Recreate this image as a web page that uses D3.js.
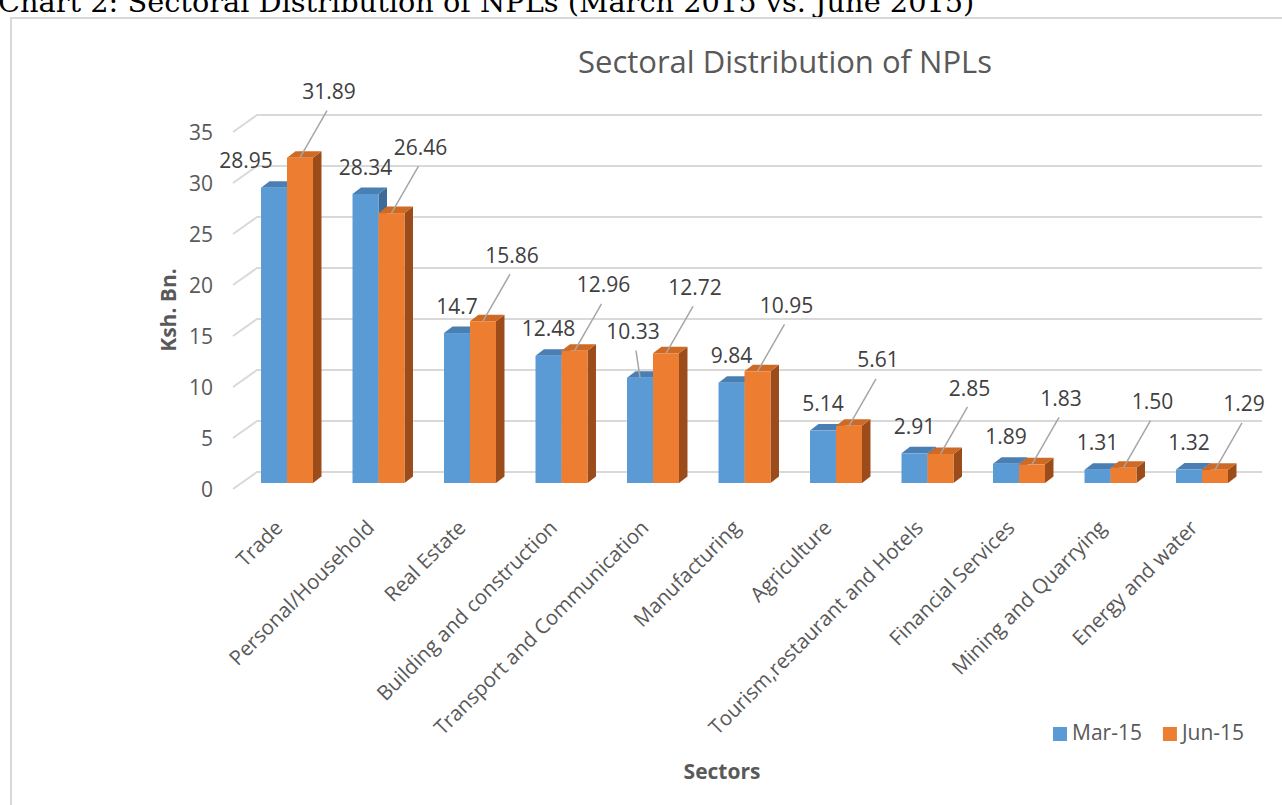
<!DOCTYPE html>
<html>
<head>
<meta charset="utf-8">
<script src="https://cdnjs.cloudflare.com/ajax/libs/d3/7.8.5/d3.min.js"></script>
<style>
  body { margin: 0; background: #fff; }
  svg text { font-family: "Open Sans", sans-serif; }
</style>
</head>
<body>
<script>
// data
var sectors = ["Trade", "Personal/Household", "Real Estate", "Building  and construction",
  "Transport and Communication", "Manufacturing", "Agriculture",
  "Tourism,restaurant and Hotels", "Financial Services", "Mining and Quarrying", "Energy and water"];
var mar15 = [28.95, 28.34, 14.7, 12.48, 10.33, 9.84, 5.14, 2.91, 1.89, 1.31, 1.32];
var jun15 = [31.89, 26.46, 15.86, 12.96, 12.72, 10.95, 5.61, 2.85, 1.83, 1.50, 1.29];
var marText = ["28.95", "28.34", "14.7", "12.48", "10.33", "9.84", "5.14", "2.91", "1.89", "1.31", "1.32"];
var junText = ["31.89", "26.46", "15.86", "12.96", "12.72", "10.95", "5.61", "2.85", "1.83", "1.50", "1.29"];
var seriesNames = ["Mar-15", "Jun-15"];
var yTicks = [0, 5, 10, 15, 20, 25, 30, 35];

var W = 1282, H = 805;
var svg = d3.select("body").append("svg").attr("width", W).attr("height", H);

// page heading (cut off at the top like the source)
var head = svg.append("text")
  .attr("x", -2).attr("y", 12)
  .style("font-family", "'DejaVu Serif', serif")
  .style("font-size", "24px")
  .attr("fill", "#000")
  .text("Chart 2: Sectoral Distribution of NPLs (March 2015 vs. June 2015)");
var hl = head.node().getComputedTextLength();
head.style("font-size", (24 * 977 / hl) + "px");

// chart frame
svg.append("rect")
  .attr("x", 11).attr("y", 18).attr("width", 1400).attr("height", 900)
  .attr("fill", "none").attr("stroke", "#d9d9d9").attr("stroke-width", 2);

var x = d3.scaleBand().domain(sectors).range([241.25, 1247.75])
  .paddingInner(0.432).paddingOuter(0.216);
var xs = d3.scaleBand().domain(seriesNames).range([0, x.bandwidth()]);
var yF = d3.scaleLinear().domain([0, 35]).range([483, 126]);   // front face
var yB = d3.scaleLinear().domain([0, 35]).range([472, 115]);   // back wall

var depthX = 8.5, depthY = 6.5;
var wallX = 257, wallEnd = 1262;

// gridlines on the wall
var grid = svg.append("g");
yTicks.forEach(function (t) {
  grid.append("path")
    .attr("d", "M" + (wallX - 24) + "," + (yB(t) + 17) + "L" + wallX + "," + yB(t) + "L" + wallEnd + "," + yB(t))
    .attr("fill", "none").attr("stroke", "#d9d9d9").attr("stroke-width", 2);
  svg.append("text")
    .attr("x", 213).attr("y", yF(t) + 8)
    .attr("text-anchor", "end").attr("dominant-baseline", "middle")
    .attr("fill", "#595959").style("font-size", "21px")
    .text(t);
});

// 3D bars
var colors = {
  "Mar-15": { front: "#5b9bd5", top: "#4a7fb3", side: "#3d6b98" },
  "Jun-15": { front: "#ed7d31", top: "#cf6a24", side: "#9c4c1b" }
};

function bar(g, x0, w, v, c) {
  var top = yF(v), bot = yF(0);
  g.append("path")
    .attr("d", "M" + (x0 + w) + "," + top + "L" + (x0 + w + depthX) + "," + (top - depthY) +
      "L" + (x0 + w + depthX) + "," + (bot - depthY) + "L" + (x0 + w) + "," + bot + "Z")
    .attr("fill", c.side);
  g.append("path")
    .attr("d", "M" + x0 + "," + top + "L" + (x0 + depthX) + "," + (top - depthY) +
      "L" + (x0 + w + depthX) + "," + (top - depthY) + "L" + (x0 + w) + "," + top + "Z")
    .attr("fill", c.top);
  g.append("rect")
    .attr("x", x0).attr("y", top).attr("width", w).attr("height", bot - top)
    .attr("fill", c.front);
}

var bars = svg.append("g");
sectors.forEach(function (s, i) {
  bar(bars, x(s) + xs("Mar-15"), xs.bandwidth(), mar15[i], colors["Mar-15"]);
  bar(bars, x(s) + xs("Jun-15"), xs.bandwidth(), jun15[i], colors["Jun-15"]);
});

// data labels
var labels = svg.append("g").attr("fill", "#404040").style("font-size", "21px");
sectors.forEach(function (s, i) {
  var jx = x(s) + xs("Jun-15") + xs.bandwidth() / 2;
  var jTop = yF(jun15[i]);
  var lx = jx + 29, ly = jTop - 64;
  labels.append("line")
    .attr("x1", lx - 2).attr("y1", ly + 17).attr("x2", jx).attr("y2", jTop)
    .attr("stroke", "#a6a6a6").attr("stroke-width", 1.5);
  labels.append("text")
    .attr("x", lx).attr("y", ly)
    .attr("text-anchor", "middle").attr("dominant-baseline", "middle")
    .text(junText[i]);

  var mx = x(s) + xs("Mar-15") + xs.bandwidth() / 2;
  var mTop = yF(mar15[i]);
  var my = mTop - 25;
  var t = labels.append("text")
    .attr("x", mx).attr("y", my)
    .attr("text-anchor", "middle").attr("dominant-baseline", "middle")
    .text(marText[i]);
  // keep the label off the taller orange bar
  var hw = t.node().getComputedTextLength() / 2;
  var ox = x(s) + xs("Jun-15");
  if (mx + hw > ox && my + 8 > jTop) {
    var prevEdge = i > 0 ? x(sectors[i - 1]) + x.bandwidth() + depthX + 4 : -Infinity;
    if (mx - 28 - hw > prevEdge) {
      t.attr("x", mx - 28);
    } else {
      // lift it and tie it back to its bar
      t.attr("x", mx - 7).attr("y", my - 19);
      labels.insert("line", "text")
        .attr("x1", mx - 4).attr("y1", my - 2).attr("x2", mx).attr("y2", mTop)
        .attr("stroke", "#a6a6a6").attr("stroke-width", 1.5);
    }
  }
});

// category labels
sectors.forEach(function (s) {
  var cx = x(s) + x.bandwidth() / 2;
  svg.append("text")
    .attr("transform", "translate(" + (cx - 3) + ",529) rotate(-45)")
    .attr("text-anchor", "end")
    .attr("fill", "#595959").style("font-size", "20.5px")
    .text(s);
});

// titles
svg.append("text")
  .attr("x", 785).attr("y", 65)
  .attr("text-anchor", "middle").attr("dominant-baseline", "middle")
  .attr("fill", "#595959").style("font-size", "31px")
  .text("Sectoral Distribution of NPLs");

svg.append("text")
  .attr("transform", "translate(170,310) rotate(-90)")
  .attr("text-anchor", "middle").attr("dominant-baseline", "middle")
  .attr("fill", "#595959").style("font-size", "21px").style("font-weight", "bold")
  .text("Ksh. Bn.");

svg.append("text")
  .attr("x", 722).attr("y", 773)
  .attr("text-anchor", "middle").attr("dominant-baseline", "middle")
  .attr("fill", "#595959").style("font-size", "21px").style("font-weight", "bold")
  .text("Sectors");

// legend
var legend = svg.append("g").attr("transform", "translate(1053,727)");
var lx0 = 0;
seriesNames.forEach(function (n) {
  legend.append("rect").attr("x", lx0).attr("y", 0).attr("width", 14).attr("height", 14)
    .attr("fill", colors[n].front);
  var t = legend.append("text").attr("x", lx0 + 19).attr("y", 7)
    .attr("dominant-baseline", "middle")
    .attr("fill", "#595959").style("font-size", "21px").text(n);
  lx0 += 19 + t.node().getComputedTextLength() + 21;
});
</script>
</body>
</html>
